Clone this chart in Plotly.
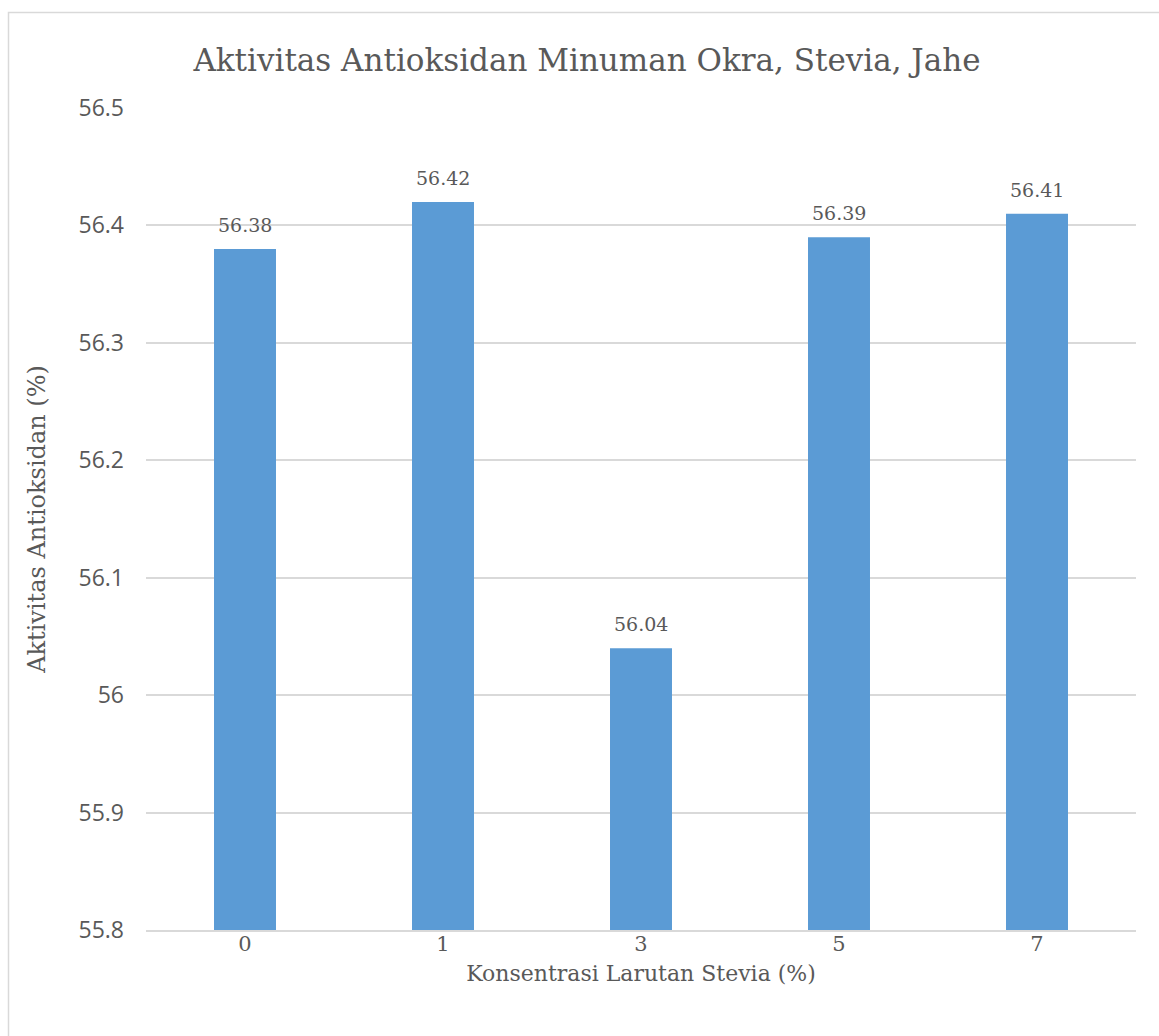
import plotly.graph_objects as go

categories = ["0", "1", "3", "5", "7"]
values = [56.38, 56.42, 56.04, 56.39, 56.41]
y_ticks = [55.8, 55.9, 56.0, 56.1, 56.2, 56.3, 56.4, 56.5]
y_tick_labels = ["55.8", "55.9", "56", "56.1", "56.2", "56.3", "56.4", "56.5"]

title_text = "Aktivitas Antioksidan Minuman Okra, Stevia, Jahe"
x_title = "Konsentrasi Larutan Stevia (%)"
y_title = "Aktivitas Antioksidan (%)"

serif = "DejaVu Serif"
sans = "Open Sans"
txt = "#595959"

fig = go.Figure(go.Bar(
    x=categories, y=values,
    marker=dict(color="#5B9BD5", line=dict(width=0)),
    width=0.313,
))

for i, v in enumerate(values):
    fig.add_annotation(x=i, y=v, text=f"{v:.2f}", showarrow=False,
                       xanchor="center", yanchor="bottom", yshift=11,
                       font=dict(family=serif, size=19, color=txt))

fig.update_layout(
    width=1159, height=1036,
    margin=dict(l=146, r=23, t=108, b=106),
    paper_bgcolor="white", plot_bgcolor="white",
    showlegend=False,
    title=dict(text=title_text, x=(587 - 146) / 990, xref="paper", xanchor="center",
               y=1 - 60/1036, yref="container", yanchor="middle",
               font=dict(family=serif, size=31, color=txt)),
    xaxis=dict(type="category", categoryorder="array", categoryarray=categories,
               range=[-0.5, len(categories) - 0.5],
               showgrid=False, showline=True, linecolor="#d9d9d9", linewidth=1.5,
               ticks="", ticklabelstandoff=-6, tickfont=dict(family=serif, size=21, color=txt),
               title=dict(text=x_title, font=dict(family=serif, size=22, color=txt), standoff=11)),
    yaxis=dict(range=[55.8, 56.5], tickvals=y_ticks, ticktext=y_tick_labels,
               showgrid=True, gridcolor="#d9d9d9", gridwidth=1.5, zeroline=False,
               ticks="", ticklabelstandoff=21,
               tickfont=dict(family=sans, size=23, color=txt),
               title=dict(text=y_title, font=dict(family=serif, size=24, color=txt), standoff=26)),
    shapes=[dict(type="rect", xref="paper", yref="paper",
                 x0=(8.5 - 146) / 990, x1=(1175 - 146) / 990,
                 y0=-0.3, y1=(930 - 12.5) / 822,
                 line=dict(color="#d9d9d9", width=1.5), fillcolor="rgba(0,0,0,0)", layer="below")],
)

fig.write_html("out.html")
